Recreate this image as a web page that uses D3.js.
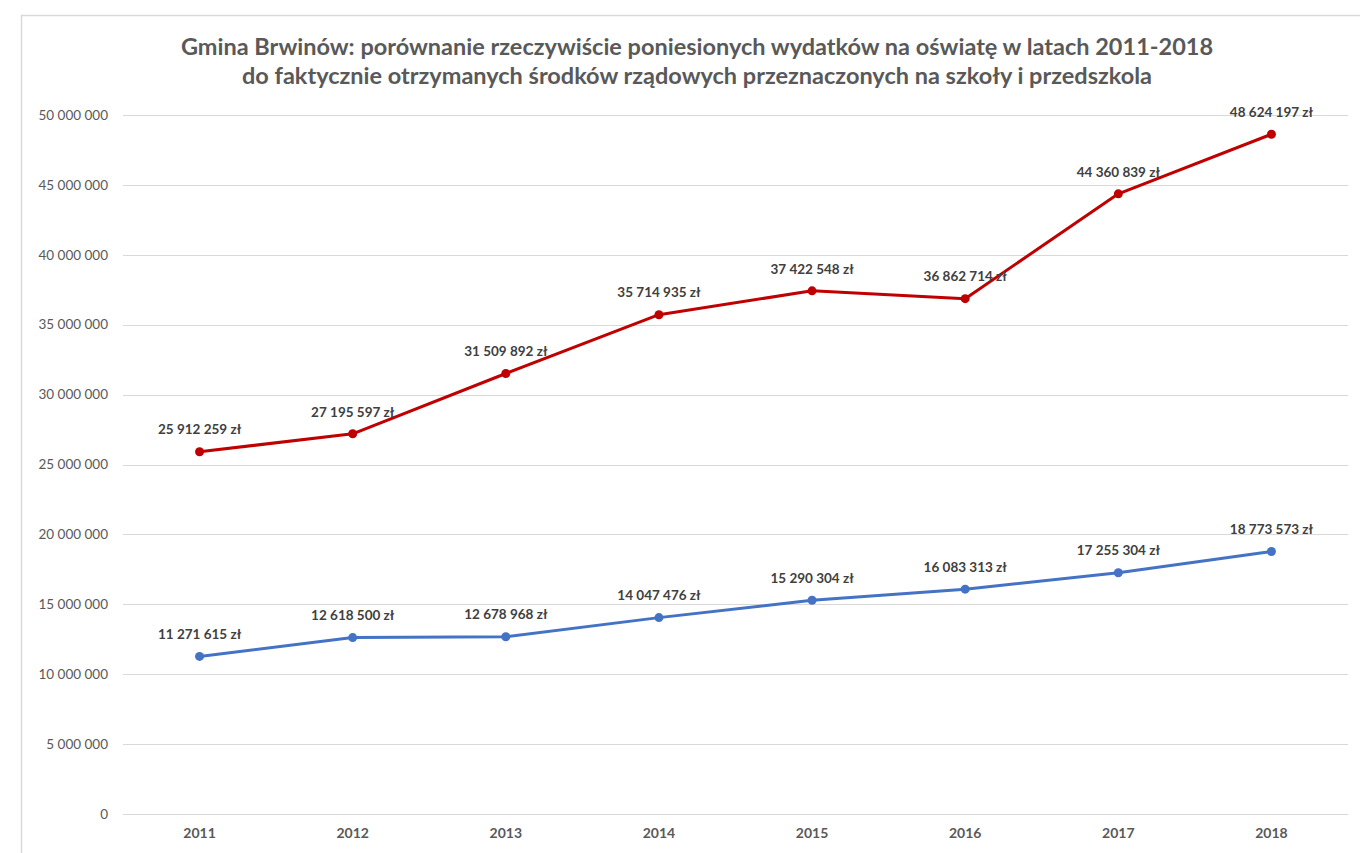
<!DOCTYPE html>
<html>
<head>
<meta charset="utf-8">
<script src="https://cdn.jsdelivr.net/npm/d3@7"></script>
<style>
  body { margin: 0; background: #fff; }
  svg text { font-family: Lato, "Open Sans", sans-serif; }
</style>
</head>
<body>
<div id="chart"></div>
<script>
// chart data
var years = ["2011", "2012", "2013", "2014", "2015", "2016", "2017", "2018"];
var wydatki = [25912259, 27195597, 31509892, 35714935, 37422548, 36862714, 44360839, 48624197];
var srodki = [11271615, 12618500, 12678968, 14047476, 15290304, 16083313, 17255304, 18773573];
var yTicks = [0, 5000000, 10000000, 15000000, 20000000, 25000000, 30000000, 35000000, 40000000, 45000000, 50000000];
var titleLines = [
    "Gmina Brwinów: porównanie rzeczywiście poniesionych wydatków na oświatę w latach 2011-2018",
    "do faktycznie otrzymanych środków rządowych przeznaczonych na szkoły i przedszkola"
];

var width = 1360, height = 853;
var margin = { top: 115, right: 12, bottom: 39, left: 123 };

var svg = d3.select("#chart")
    .append("svg")
    .attr("width", width)
    .attr("height", height);

// chart area border
svg.append("rect")
    .attr("x", 21.5)
    .attr("y", 15.5)
    .attr("width", width)
    .attr("height", height)
    .attr("fill", "none")
    .attr("stroke", "#d9d9d9")
    .attr("stroke-width", 1.5);

var x = d3.scalePoint().domain(years).range([margin.left, width - margin.right]).padding(0.5);
var y = d3.scaleLinear().domain([0, 50000000]).range([height - margin.bottom, margin.top]);

var fmt = function (v) { return d3.format(",")(v).replace(/,/g, " "); };

// gridlines
svg.append("g")
    .selectAll("line")
    .data(yTicks)
    .join("line")
    .attr("x1", margin.left)
    .attr("x2", width - margin.right)
    .attr("y1", function (d) { return Math.round(y(d)) + 0.5 })
    .attr("y2", function (d) { return Math.round(y(d)) + 0.5 })
    .attr("stroke", "#d9d9d9")
    .attr("stroke-width", 1.2);

// y axis labels
svg.append("g")
    .selectAll("text")
    .data(yTicks)
    .join("text")
    .attr("x", 108)
    .attr("y", function (d) { return y(d) })
    .attr("dy", "0.35em")
    .attr("text-anchor", "end")
    .attr("fill", "#595959")
    .style("font-size", "13.5px")
    .text(function (d) { return fmt(d) });

// x axis labels
svg.append("g")
    .selectAll("text")
    .data(years)
    .join("text")
    .attr("x", function (d) { return x(d) })
    .attr("y", 833)
    .attr("dy", "0.35em")
    .attr("text-anchor", "middle")
    .attr("fill", "#595959")
    .style("font-size", "14px")
    .style("font-weight", "bold")
    .text(function (d) { return d });

// title
svg.append("g")
    .selectAll("text")
    .data(titleLines)
    .join("text")
    .attr("x", 697)
    .attr("y", function (d, i) { return 47 + i * 29 })
    .attr("dy", "0.35em")
    .attr("text-anchor", "middle")
    .attr("fill", "#595959")
    .style("font-size", "23.5px")
    .style("font-weight", "bold")
    .text(function (d) { return d });

function drawSeries(values, color) {
    var pts = years.map(function (yr, i) { return { year: yr, v: values[i] } });

    svg.append("path")
        .datum(pts)
        .attr("fill", "none")
        .attr("stroke", color)
        .attr("stroke-width", 3)
        .attr("stroke-linejoin", "round")
        .attr("d", d3.line()
            .x(function (d) { return x(d.year) })
            .y(function (d) { return y(d.v) }));

    svg.append("g")
        .selectAll("circle")
        .data(pts)
        .join("circle")
        .attr("cx", function (d) { return x(d.year) })
        .attr("cy", function (d) { return y(d.v) })
        .attr("r", 4.5)
        .attr("fill", color);

    svg.append("g")
        .selectAll("text")
        .data(pts)
        .join("text")
        .attr("x", function (d) { return x(d.year) })
        .attr("y", function (d) { return y(d.v) - 22 })
        .attr("dy", "0.35em")
        .attr("text-anchor", "middle")
        .attr("fill", "#404040")
        .style("font-size", "13.5px")
        .style("font-weight", "bold")
        .text(function (d) { return fmt(d.v) + " zł" });
}

drawSeries(wydatki, "#c00000");
drawSeries(srodki, "#4472c4");
</script>
</body>
</html>
